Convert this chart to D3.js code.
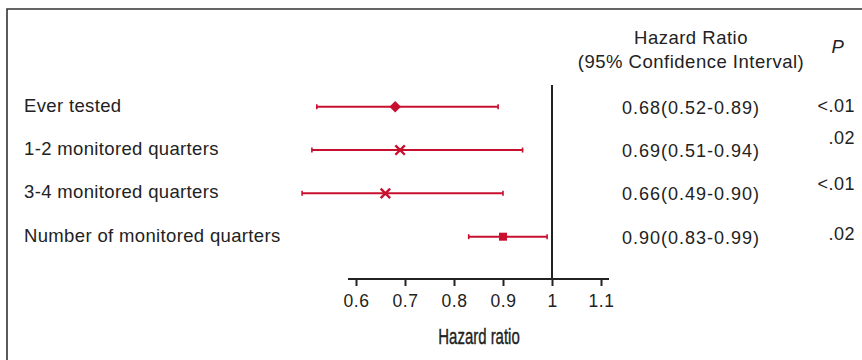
<!DOCTYPE html>
<html>
<head>
<meta charset="utf-8">
<script src="https://cdn.jsdelivr.net/npm/d3@7"></script>
<style>
  body { margin: 0; background: #fff; }
  svg { display: block; }
  text { font-family: "Liberation Sans", Arial, sans-serif; fill: #222; }
</style>
</head>
<body>
<svg id="chart" width="862" height="360"></svg>
<script>
// data
const labels = ['Ever tested', '1-2 monitored quarters', '3-4 monitored quarters', 'Number of monitored quarters'];
const hr = [0.68, 0.69, 0.66, 0.90];
const lower = [0.52, 0.51, 0.49, 0.83];
const upper = [0.89, 0.94, 0.90, 0.99];
const pValues = ['<.01', '.02', '<.01', '.02'];
const markers = ['diamond', 'cross', 'cross', 'square'];
const ticks = [0.6, 0.7, 0.8, 0.9, 1, 1.1];

// the P column is not quite level with the rows in the original
const pNudge = [5, -6, -3, 3];

const RED = '#c8102e';
const svg = d3.select('#chart');

const x = d3.scaleLinear().domain([0.6, 1.1]).range([356, 601]);
const y = d3.scalePoint().domain(labels).range([106.7, 236.7]);

const fmt = d3.format('.2f');

// frame (top + left only)
svg.append('path')
    .attr('d', 'M7,360V9H862')
    .attr('fill', 'none')
    .attr('stroke', '#333')
    .attr('stroke-width', 1.6);

// headers
const head = svg.append('g').style('font-size', '18.5px').style('letter-spacing', '0.5px');
head.append('text').attr('x', 691).attr('y', 44).attr('text-anchor', 'middle').text('Hazard Ratio');
head.append('text').attr('x', 691).attr('y', 68).attr('text-anchor', 'middle').text('(95% Confidence Interval)');
head.append('text').attr('x', 838).attr('y', 53).attr('text-anchor', 'middle')
    .style('font-style', 'italic').text('P');

// row labels
svg.append('g')
    .selectAll('text')
    .data(labels)
    .join('text')
    .attr('x', 24)
    .attr('y', d => y(d) + 5)
    .style('font-size', '18.5px')
    .style('letter-spacing', '0.35px')
    .text(d => d);

// HR (CI) column
svg.append('g')
    .selectAll('text')
    .data(labels)
    .join('text')
    .attr('x', 691)
    .attr('y', d => y(d) + 7)
    .attr('text-anchor', 'middle')
    .style('font-size', '18px')
    .style('letter-spacing', '1px')
    .text((d, i) => `${fmt(hr[i])}(${fmt(lower[i])}-${fmt(upper[i])})`);

// P column
svg.append('g')
    .selectAll('text')
    .data(labels)
    .join('text')
    .attr('x', 855)
    .attr('y', (d, i) => y(d) + pNudge[i])
    .attr('text-anchor', 'end')
    .style('font-size', '18px')
    .style('letter-spacing', '0.5px')
    .text((d, i) => pValues[i]);

// x axis
const axis = svg.append('g')
    .attr('transform', 'translate(0,279)')
    .call(d3.axisBottom(x).tickValues(ticks).tickSize(7).tickPadding(9).tickFormat(d3.format('')));
axis.select('.domain').remove();
axis.append('line')
    .attr('x1', 348).attr('x2', 609)
    .attr('stroke', '#222').attr('stroke-width', 2.2);
axis.selectAll('.tick line').attr('stroke', '#222').attr('stroke-width', 2);
axis.selectAll('.tick text')
    .attr('fill', '#222')
    .style('font-family', '"Liberation Sans", Arial, sans-serif')
    .style('font-size', '17.5px')
    .style('letter-spacing', '0.5px');

// axis title, squeezed to look like a condensed face
svg.append('text')
    .attr('transform', 'translate(479,344) scale(0.68,1)')
    .attr('text-anchor', 'middle')
    .style('font-size', '22px')
    .style('stroke', '#222')
    .style('stroke-width', '0.4px')
    .text('Hazard ratio');

// reference line at HR = 1
svg.append('line')
    .attr('x1', x(1)).attr('x2', x(1))
    .attr('y1', 85).attr('y2', 279)
    .attr('stroke', '#222')
    .attr('stroke-width', 2);

// confidence intervals
const rows = svg.append('g')
    .selectAll('g')
    .data(labels)
    .join('g')
    .attr('transform', d => `translate(0,${y(d)})`);

rows.append('line')
    .attr('x1', (d, i) => x(lower[i]))
    .attr('x2', (d, i) => x(upper[i]))
    .attr('stroke', RED)
    .attr('stroke-width', 2);

rows.append('line')
    .attr('x1', (d, i) => x(lower[i])).attr('x2', (d, i) => x(lower[i]))
    .attr('y1', -2.5).attr('y2', 2.5)
    .attr('stroke', RED).attr('stroke-width', 1.6);

rows.append('line')
    .attr('x1', (d, i) => x(upper[i])).attr('x2', (d, i) => x(upper[i]))
    .attr('y1', -2.5).attr('y2', 2.5)
    .attr('stroke', RED).attr('stroke-width', 1.6);

// point estimates
const symbolFor = {
    diamond: d3.symbol().type(d3.symbolDiamond2).size(85),
    cross: d3.symbol().type(d3.symbolX).size(60),
    square: d3.symbol().type(d3.symbolSquare).size(64)
};

rows.append('path')
    .attr('transform', (d, i) => `translate(${x(hr[i])},0)`)
    .attr('d', (d, i) => symbolFor[markers[i]]())
    .attr('fill', (d, i) => markers[i] === 'cross' ? 'none' : RED)
    .attr('stroke', RED)
    .attr('stroke-width', (d, i) => markers[i] === 'cross' ? 2.4 : 0);
</script>
</body>
</html>
